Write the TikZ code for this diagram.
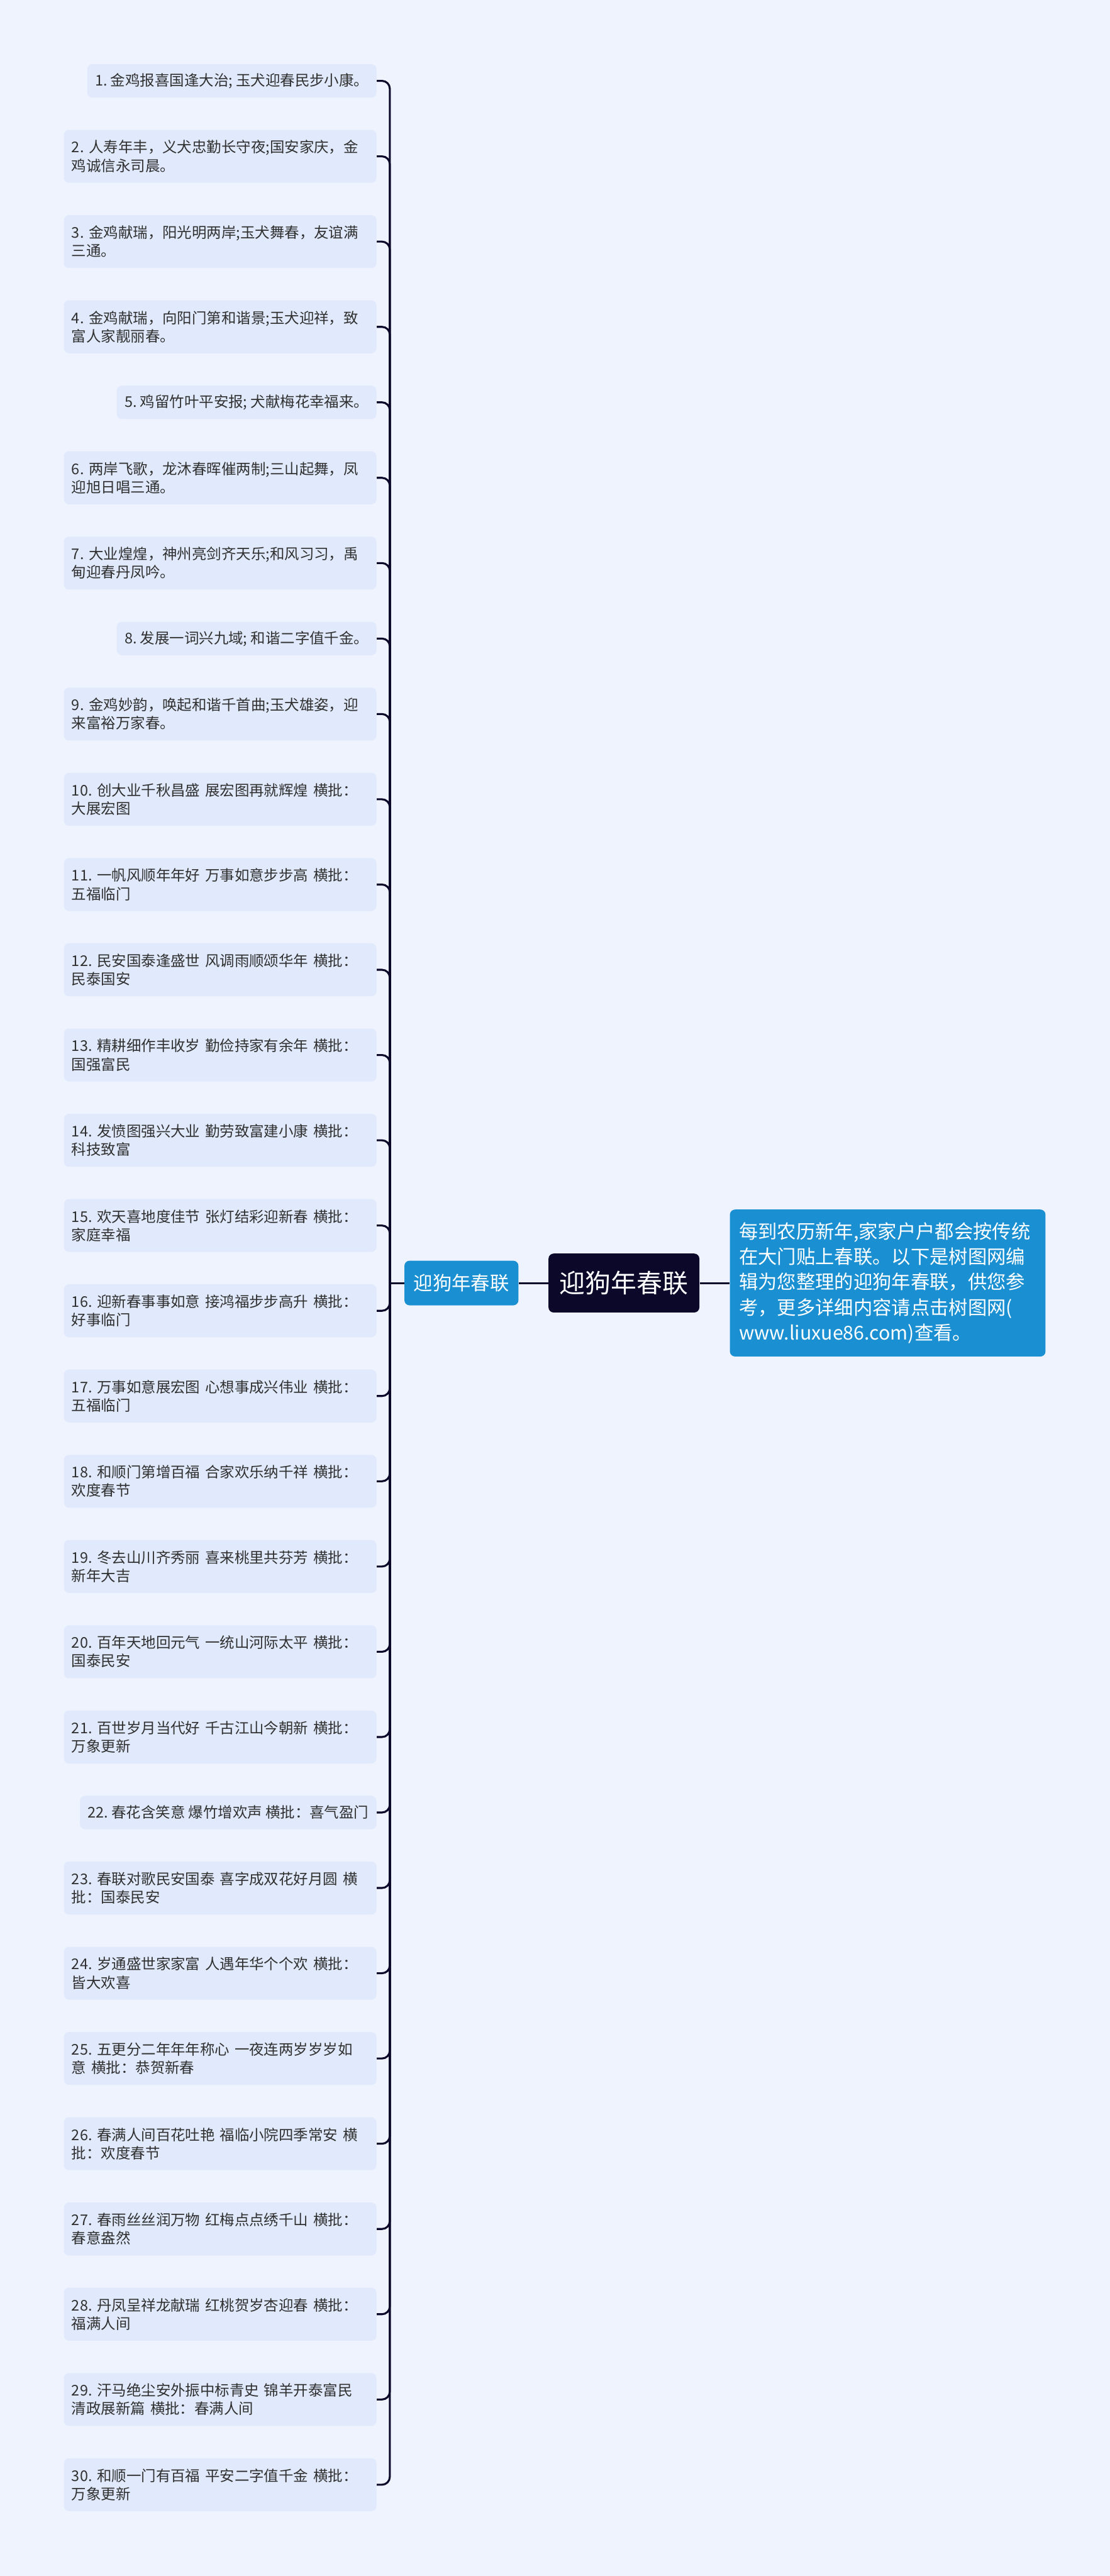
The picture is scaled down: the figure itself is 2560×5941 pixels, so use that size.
\documentclass[tikz,border=0pt]{standalone}
\usepackage{fontspec}
\setmainfont{Noto Sans CJK SC}
\frenchspacing
\usetikzlibrary{positioning}
\definecolor{pagebg}{HTML}{EEF3FE}
\definecolor{itembg}{HTML}{E0EAFC}
\definecolor{navy}{HTML}{0B0829}
\definecolor{topicblue}{HTML}{1A90D2}
\definecolor{inktext}{HTML}{303030}
\begin{document}
\begin{tikzpicture}[x=0.3pt,y=-0.3pt]
    \tikzset{
      item/.style={fill=itembg, rounded corners=3.6pt, text=inktext,
        font=\fontsize{10.2pt}{12.7pt}\selectfont, anchor=east,
        inner xsep=5.4pt, inner ysep=2pt, align=left},
      one line/.style={item, minimum height=23.1pt},
      two lines/.style={item, minimum height=36.6pt, text width=205.5pt},
      branch/.style={draw=navy, line width=1.35pt, rounded corners=5.4pt},
      root/.style={fill=navy, text=white, rounded corners=3.6pt,
        font=\fontsize{17.8pt}{20pt}\selectfont,
        minimum width=104.4pt, minimum height=40.8pt},
      topic/.style={fill=topicblue, text=white, rounded corners=3.6pt,
        font=\fontsize{13.2pt}{16pt}\selectfont,
        minimum width=78.9pt, minimum height=30.9pt},
      info/.style={fill=topicblue, text=white, rounded corners=3.6pt,
        font=\fontsize{13.2pt}{17.6pt}\selectfont, align=left,
        text width=205.8pt, inner xsep=6.3pt, minimum height=101.7pt},
    }
    \fill[pagebg] (0,0) rectangle (2560,5941);
    %
    \node[root] (root) at (1439,2959) {迎狗年春联};
    \node[topic, left=20.4pt of root] (sub) {迎狗年春联};
    \node[info, right=20.7pt of root] (info) {每到农历新年,家家户户都会按传统\\在大门贴上春联。以下是树图网编\\辑为您整理的迎狗年春联，供您参\\考，更多详细内容请点击树图网(\\www.liuxue86.com)查看。};
    \coordinate[left=9.9pt of sub] (hub);
    %
    \node[one line] (b1) at (869,186.5) {1. 金鸡报喜国逢大治; 玉犬迎春民步小康。};
    \node[two lines] (b2) at (869,360.6) {2. 人寿年丰，义犬忠勤长守夜;国安家庆，金\\鸡诚信永司晨。};
    \node[two lines] (b3) at (869,557.2) {3. 金鸡献瑞，阳光明两岸;玉犬舞春，友谊满\\三通。};
    \node[two lines] (b4) at (869,753.8) {4. 金鸡献瑞，向阳门第和谐景;玉犬迎祥，致\\富人家靓丽春。};
    \node[one line] (b5) at (869,927.9) {5. 鸡留竹叶平安报; 犬献梅花幸福来。};
    \node[two lines] (b6) at (869,1102) {6. 两岸飞歌，龙沐春晖催两制;三山起舞，凤\\迎旭日唱三通。};
    \node[two lines] (b7) at (869,1298.6) {7. 大业煌煌，神州亮剑齐天乐;和风习习，禹\\甸迎春丹凤吟。};
    \node[one line] (b8) at (869,1472.7) {8. 发展一词兴九域; 和谐二字值千金。};
    \node[two lines] (b9) at (869,1646.8) {9. 金鸡妙韵，唤起和谐千首曲;玉犬雄姿，迎\\来富裕万家春。};
    \node[two lines] (b10) at (869,1843.4) {10. 创大业千秋昌盛 展宏图再就辉煌 横批：\\大展宏图};
    \node[two lines] (b11) at (869,2040) {11. 一帆风顺年年好 万事如意步步高 横批：\\五福临门};
    \node[two lines] (b12) at (869,2236.6) {12. 民安国泰逢盛世 风调雨顺颂华年 横批：\\民泰国安};
    \node[two lines] (b13) at (869,2433.2) {13. 精耕细作丰收岁 勤俭持家有余年 横批：\\国强富民};
    \node[two lines] (b14) at (869,2629.8) {14. 发愤图强兴大业 勤劳致富建小康 横批：\\科技致富};
    \node[two lines] (b15) at (869,2826.4) {15. 欢天喜地度佳节 张灯结彩迎新春 横批：\\家庭幸福};
    \node[two lines] (b16) at (869,3023) {16. 迎新春事事如意 接鸿福步步高升 横批：\\好事临门};
    \node[two lines] (b17) at (869,3219.6) {17. 万事如意展宏图 心想事成兴伟业 横批：\\五福临门};
    \node[two lines] (b18) at (869,3416.2) {18. 和顺门第增百福 合家欢乐纳千祥 横批：\\欢度春节};
    \node[two lines] (b19) at (869,3612.8) {19. 冬去山川齐秀丽 喜来桃里共芬芳 横批：\\新年大吉};
    \node[two lines] (b20) at (869,3809.4) {20. 百年天地回元气 一统山河际太平 横批：\\国泰民安};
    \node[two lines] (b21) at (869,4006) {21. 百世岁月当代好 千古江山今朝新 横批：\\万象更新};
    \node[one line] (b22) at (869,4180.1) {22. 春花含笑意 爆竹增欢声 横批：喜气盈门};
    \node[two lines] (b23) at (869,4354.2) {23. 春联对歌民安国泰 喜字成双花好月圆 横\\批：国泰民安};
    \node[two lines] (b24) at (869,4550.8) {24. 岁通盛世家家富 人遇年华个个欢 横批：\\皆大欢喜};
    \node[two lines] (b25) at (869,4747.4) {25. 五更分二年年年称心 一夜连两岁岁岁如\\意 横批：恭贺新春};
    \node[two lines] (b26) at (869,4944) {26. 春满人间百花吐艳 福临小院四季常安 横\\批：欢度春节};
    \node[two lines] (b27) at (869,5140.6) {27. 春雨丝丝润万物 红梅点点绣千山 横批：\\春意盎然};
    \node[two lines] (b28) at (869,5337.2) {28. 丹凤呈祥龙献瑞 红桃贺岁杏迎春 横批：\\福满人间};
    \node[two lines] (b29) at (869,5533.8) {29. 汗马绝尘安外振中标青史 锦羊开泰富民\\清政展新篇 横批：春满人间};
    \node[two lines] (b30) at (869,5730.4) {30. 和顺一门有百福 平安二字值千金 横批：\\万象更新};
    %
    \foreach \i in {1,...,30}
      \draw[branch] (b\i.east) -- (hub |- b\i.east) -- (hub);
    \draw[branch] (hub) -- (sub);
    \draw[branch] (sub) -- (root);
    \draw[branch] (root) -- (info);
\end{tikzpicture}
\end{document}
